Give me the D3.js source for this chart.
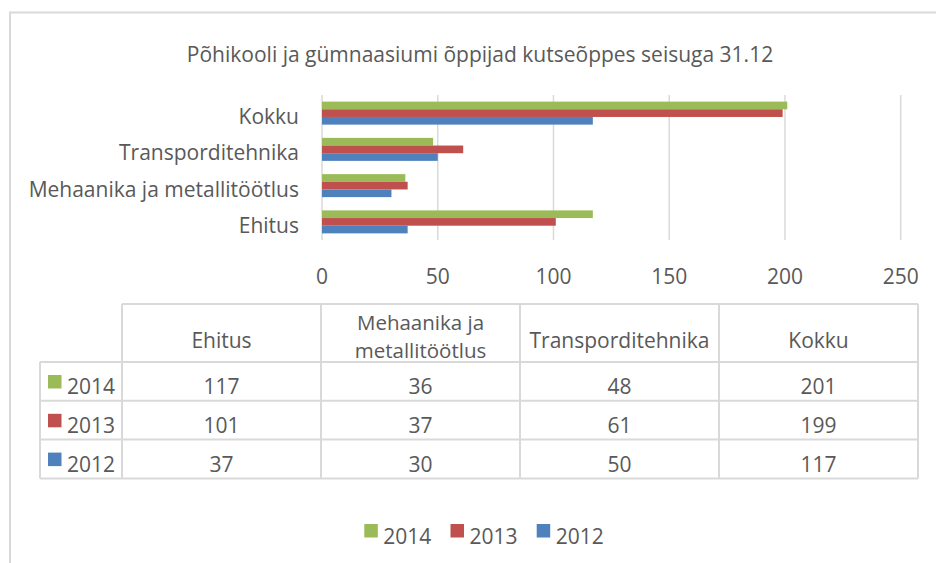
<!DOCTYPE html>
<html>
<head>
<meta charset="utf-8">
<script src="https://cdn.jsdelivr.net/npm/d3@7"></script>
<style>
  body { margin: 0; background: #fff; }
  svg text { font-family: "Open Sans", sans-serif; fill: #595959; }
</style>
</head>
<body>
<div id="chart"></div>
<script>
const title = 'Põhikooli ja gümnaasiumi õppijad kutseõppes seisuga 31.12';
const categories = ['Ehitus', 'Mehaanika ja metallitöötlus', 'Transporditehnika', 'Kokku'];
const years = ['2014', '2013', '2012'];
const values2014 = [117, 36, 48, 201];
const values2013 = [101, 37, 61, 199];
const values2012 = [37, 30, 50, 117];
const ticks = [0, 50, 100, 150, 200, 250];

const colors = { '2014': '#9bbb59', '2013': '#c0504d', '2012': '#4f81bd' };
const series = { '2014': values2014, '2013': values2013, '2012': values2012 };

const width = 936, height = 563;
const fontSize = 21;

const svg = d3.select('#chart').append('svg')
    .attr('width', width)
    .attr('height', height);

// outer chart frame
svg.append('rect')
    .attr('x', 10).attr('y', 12.5)
    .attr('width', width).attr('height', height)
    .attr('fill', 'none')
    .attr('stroke', '#d9d9d9')
    .attr('stroke-width', 2);

svg.append('text')
    .attr('x', 480).attr('y', 62)
    .attr('text-anchor', 'middle')
    .style('font-size', fontSize + 'px')
    .text(title);

const x = d3.scaleLinear().domain([0, 250]).range([322, 900.7]);

// Excel draws the first category at the bottom
const y = d3.scaleBand()
    .domain(categories.slice().reverse())
    .range([95, 240])
    .paddingInner(0.366)
    .paddingOuter(0.183);

const ySub = d3.scaleBand()
    .domain(years)
    .range([0, y.bandwidth()]);

// gridlines
svg.append('g')
    .selectAll('line')
    .data(ticks)
    .join('line')
    .attr('x1', d => x(d)).attr('x2', d => x(d))
    .attr('y1', 95).attr('y2', 240)
    .attr('stroke', '#d9d9d9')
    .attr('stroke-width', 1.5);

// bars
const rows = [];
years.forEach(yr => categories.forEach((c, i) => rows.push({ year: yr, cat: c, value: series[yr][i] })));

svg.append('g')
    .selectAll('rect')
    .data(rows)
    .join('rect')
    .attr('x', x(0))
    .attr('y', d => y(d.cat) + ySub(d.year))
    .attr('width', d => x(d.value) - x(0))
    .attr('height', ySub.bandwidth())
    .attr('fill', d => colors[d.year]);

// category labels
svg.append('g')
    .selectAll('text')
    .data(categories)
    .join('text')
    .attr('x', 299)
    .attr('y', d => y(d) + y.bandwidth() / 2 + 11)
    .attr('text-anchor', 'end')
    .style('font-size', fontSize + 'px')
    .text(d => d);

// value axis labels
svg.append('g')
    .selectAll('text')
    .data(ticks)
    .join('text')
    .attr('x', d => x(d))
    .attr('y', 284)
    .attr('text-anchor', 'middle')
    .style('font-size', fontSize + 'px')
    .text(d => d);

// data table
const col = d3.scaleBand().domain(categories).range([122, 918]);
const headTop = 304, headBottom = 362, rowH = 38.8;
const rowY = d3.scaleBand().domain(years).range([headBottom, headBottom + rowH * years.length]);
const tableBottom = headBottom + rowH * years.length;
const grid = svg.append('g').attr('stroke', '#d9d9d9').attr('stroke-width', 2);

// horizontal lines
grid.append('line').attr('x1', 122).attr('x2', 918).attr('y1', headTop).attr('y2', headTop);
[headBottom, ...years.map(yr => rowY(yr) + rowY.bandwidth())].forEach(yy => {
  grid.append('line').attr('x1', 40).attr('x2', 918).attr('y1', yy).attr('y2', yy);
});
// vertical lines
grid.append('line').attr('x1', 40).attr('x2', 40).attr('y1', headBottom).attr('y2', tableBottom);
categories.forEach(c => {
  grid.append('line').attr('x1', col(c)).attr('x2', col(c)).attr('y1', headTop).attr('y2', tableBottom);
});
grid.append('line').attr('x1', 918).attr('x2', 918).attr('y1', headTop).attr('y2', tableBottom);

// header labels, wrapped when wider than the column
categories.forEach(c => {
  const cx = col(c) + col.bandwidth() / 2;
  const t = svg.append('text')
      .attr('text-anchor', 'middle')
      .style('font-size', fontSize + 'px')
      .text(c);
  if (t.node().getComputedTextLength() > col.bandwidth() - 10) {
    const words = c.split(' ');
    t.remove();
    // two separate lines, a touch smaller so they don't collide
    [[words.slice(0, 2).join(' '), 329.5], [words.slice(2).join(' '), 357.5]].forEach(([s, yy]) => {
      svg.append('text')
          .attr('x', cx).attr('y', yy)
          .attr('text-anchor', 'middle')
          .style('font-size', '20.5px')
          .text(s);
    });
  } else {
    t.attr('x', cx).attr('y', 348);
  }
});

// table rows
years.forEach(yr => {
  const top = rowY(yr);
  svg.append('rect')
      .attr('x', 48).attr('y', top + 13)
      .attr('width', 13.5).attr('height', 13.5)
      .attr('fill', colors[yr]);
  svg.append('text')
      .attr('x', 67).attr('y', top + 32)
      .style('font-size', fontSize + 'px')
      .text(yr);
  svg.append('g')
      .selectAll('text')
      .data(series[yr])
      .join('text')
      .attr('x', (d, i) => col(categories[i]) + col.bandwidth() / 2)
      .attr('y', top + 32)
      .attr('text-anchor', 'middle')
      .style('font-size', fontSize + 'px')
      .text(d => d);
});

// legend
const legend = svg.append('g')
    .selectAll('g')
    .data(years)
    .join('g')
    .attr('transform', (d, i) => `translate(${364.3 + i * 86.2},524)`);
legend.append('rect')
    .attr('width', 13.5).attr('height', 13.5)
    .attr('fill', d => colors[d]);
legend.append('text')
    .attr('x', 19).attr('y', 19.5)
    .style('font-size', fontSize + 'px')
    .text(d => d);
</script>
</body>
</html>
